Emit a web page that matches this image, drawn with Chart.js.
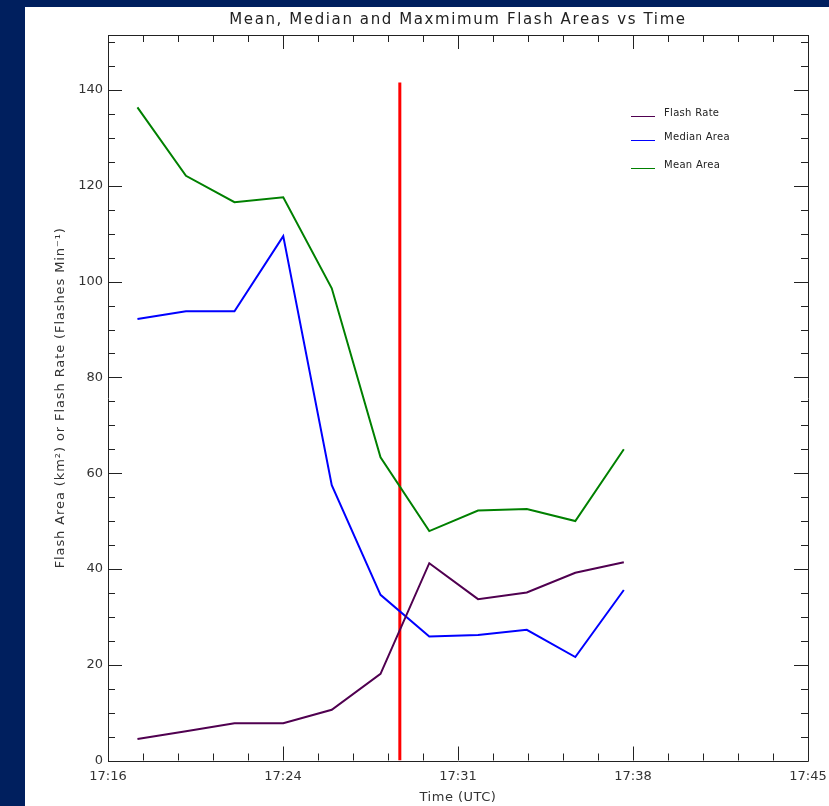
<!DOCTYPE html>
<html>
<head>
<meta charset="utf-8">
<script src="https://cdn.jsdelivr.net/npm/chart.js@4"></script>
<style>
    html, body { margin: 0; padding: 0; background: #001f5e; width: 829px; height: 806px; overflow: hidden; }
    #wrap { position: absolute; left: 25px; top: 7px; width: 804px; height: 799px; background: #ffffff; }
</style>
</head>
<body>
<div id="wrap"><canvas id="flashChart" width="804" height="799"></canvas></div>
<script>
// minutes after 17:16 UTC
const timeMinutes = [1.22, 3.23, 5.24, 7.26, 9.27, 11.29, 13.31, 15.33, 17.35, 19.36, 21.37];
const flashRate = [4.5, 6.1, 7.8, 7.8, 10.6, 18.1, 41.2, 33.7, 35.1, 39.2, 41.4];
const medianArea = [92.2, 93.8, 93.8, 109.5, 57.5, 34.6, 25.9, 26.2, 27.3, 21.6, 35.6];
const meanArea = [136.4, 122.1, 116.6, 117.6, 98.6, 63.3, 47.9, 52.2, 52.5, 50.0, 65.0];
const markerTime = 12.09;
const markerTop = 141.6;
const xTickLabels = ['17:16', '17:24', '17:31', '17:38', '17:45'];
const xMajorStep = 7.25;
const yMajorStep = 20;

const chartTitle = 'Mean, Median and Maxmimum Flash Areas vs Time';
const xTitle = 'Time (UTC)';
const yTitle = 'Flash Area (km²) or Flash Rate (Flashes Min⁻¹)';

const FONT = 'DejaVu Sans';
const INK = '#222222';
const TEXT = '#333333';

const toPoints = values => values.map((v, i) => ({ x: timeMinutes[i], y: v }));

// IDL style: box with inward ticks on all four sides, wide-spaced titles, inset legend
const idlFrame = {
    id: 'idlFrame',
    beforeDatasetsDraw(chart) {
        const { ctx, chartArea: a, scales: { x, y } } = chart;
        ctx.save();
        ctx.strokeStyle = INK;
        ctx.lineWidth = 1;
        ctx.beginPath();
        ctx.rect(Math.round(a.left) + 0.5, Math.round(a.top) + 0.5,
                 Math.round(a.right - a.left), Math.round(a.bottom - a.top));
        ctx.stroke();

        ctx.beginPath();
        for (let v = 0; v <= x.max + 0.001; v += xMajorStep / 5) {
            const major = Math.abs(v / xMajorStep - Math.round(v / xMajorStep)) < 0.01;
            const len = major ? 14 : 7;
            const px = Math.round(x.getPixelForValue(v)) + 0.5;
            ctx.moveTo(px, a.bottom); ctx.lineTo(px, a.bottom - len);
            ctx.moveTo(px, a.top); ctx.lineTo(px, a.top + len);
        }
        for (let v = 0; v <= y.max; v += 5) {
            const len = v % yMajorStep === 0 ? 14 : 7;
            const py = Math.round(y.getPixelForValue(v)) + 0.5;
            ctx.moveTo(a.left, py); ctx.lineTo(a.left + len, py);
            ctx.moveTo(a.right, py); ctx.lineTo(a.right - len, py);
        }
        ctx.stroke();
        ctx.restore();
    },
    afterDraw(chart) {
        const { ctx, chartArea: a } = chart;
        const cx = (a.left + a.right) / 2;
        const cy = (a.top + a.bottom) / 2;
        ctx.save();
        ctx.textAlign = 'center';
        ctx.textBaseline = 'middle';

        ctx.fillStyle = INK;
        ctx.font = '15px ' + FONT;
        ctx.letterSpacing = '1.6px';
        ctx.fillText(chartTitle, cx, 13);

        ctx.fillStyle = TEXT;
        ctx.font = '13px ' + FONT;
        ctx.letterSpacing = '0.5px';
        ctx.fillText(xTitle, cx, a.bottom + 37);

        ctx.save();
        ctx.translate(36, cy);
        ctx.rotate(-Math.PI / 2);
        ctx.letterSpacing = '0.9px';
        ctx.fillText(yTitle, 0, 0);
        ctx.restore();

        // legend
        const rows = [78, 102, 130];
        ctx.font = '10px ' + FONT;
        ctx.letterSpacing = '0.3px';
        ctx.textAlign = 'left';
        ctx.fillStyle = INK;
        chart.data.datasets.filter(d => d.label).forEach((d, i) => {
            const ty = Math.round(a.top + rows[i]);
            ctx.strokeStyle = d.borderColor;
            ctx.lineWidth = 1;
            ctx.beginPath();
            ctx.moveTo(Math.round(a.right - 177), ty + 3.5);
            ctx.lineTo(Math.round(a.right - 153), ty + 3.5);
            ctx.stroke();
            ctx.fillText(d.label, a.right - 144, ty);
        });
        ctx.restore();
    }
};

new Chart(document.getElementById('flashChart'), {
    type: 'line',
    data: {
        datasets: [
            {
                label: 'Flash Rate',
                data: toPoints(flashRate),
                borderColor: '#500050',
                borderWidth: 2
            },
            {
                label: 'Median Area',
                data: toPoints(medianArea),
                borderColor: '#0000ff',
                borderWidth: 2
            },
            {
                label: 'Mean Area',
                data: toPoints(meanArea),
                borderColor: '#008000',
                borderWidth: 2
            },
            {
                label: '',
                data: [{ x: markerTime, y: 0 }, { x: markerTime, y: markerTop }],
                borderColor: '#ff0000',
                borderWidth: 3
            }
        ]
    },
    options: {
        responsive: false,
        animation: false,
        events: [],
        elements: {
            point: { radius: 0 },
            line: { tension: 0, borderCapStyle: 'butt' }
        },
        layout: { padding: { top: 28, right: 21, bottom: 0, left: 0 } },
        plugins: {
            legend: { display: false },
            tooltip: { enabled: false },
            title: { display: false }
        },
        scales: {
            x: {
                type: 'linear',
                min: 0,
                max: xMajorStep * (xTickLabels.length - 1),
                grid: { display: false, drawTicks: false },
                border: { display: false },
                afterBuildTicks: scale => {
                    scale.ticks = xTickLabels.map((_, i) => ({ value: i * xMajorStep }));
                },
                afterFit: scale => {
                    scale.height = 45.5;
                    scale.paddingLeft = 0;
                    scale.paddingRight = 0;
                },
                ticks: {
                    autoSkip: false,
                    maxRotation: 0,
                    padding: 8,
                    color: TEXT,
                    font: { family: FONT, size: 13 },
                    callback: (value, index) => xTickLabels[index]
                }
            },
            y: {
                min: 0,
                max: 151.5,
                grid: { display: false, drawTicks: false },
                border: { display: false },
                afterFit: scale => { scale.width = 83; },
                ticks: {
                    stepSize: yMajorStep,
                    includeBounds: false,
                    padding: 5,
                    color: TEXT,
                    font: { family: FONT, size: 13 }
                }
            }
        }
    },
    plugins: [idlFrame]
});
</script>
</body>
</html>
